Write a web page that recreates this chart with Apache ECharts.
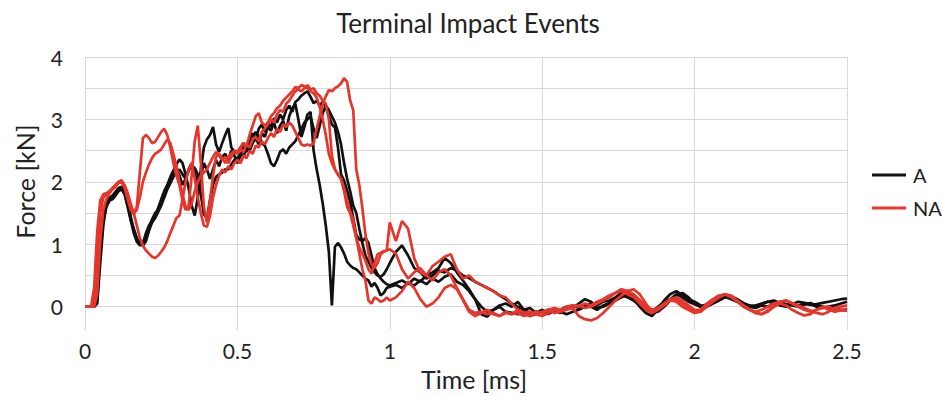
<!DOCTYPE html>
<html>
<head>
<meta charset="utf-8">
<script src="https://cdn.jsdelivr.net/npm/echarts@6/dist/echarts.min.js"></script>
<style>html,body{margin:0;padding:0;background:#fff;}#c{width:943px;height:396px;}</style>
</head>
<body>
<div id="c"></div>
<script>
const title = 'Terminal Impact Events';
const xName = 'Time [ms]';
const yName = 'Force [kN]';
const groupNames = ['A', 'NA'];

const time = [
0,0.01,0.02,0.03,0.04,0.05,0.06,0.07,0.08,0.09,
0.1,0.11,0.12,0.13,0.14,0.15,0.16,0.17,0.18,0.19,
0.2,0.21,0.22,0.23,0.24,0.25,0.26,0.27,0.28,0.29,
0.3,0.31,0.32,0.33,0.34,0.35,0.36,0.37,0.38,0.39,
0.4,0.41,0.42,0.43,0.44,0.45,0.46,0.47,0.48,0.49,
0.5,0.51,0.52,0.53,0.54,0.55,0.56,0.57,0.58,0.59,
0.6,0.61,0.62,0.63,0.64,0.65,0.66,0.67,0.68,0.69,
0.7,0.71,0.72,0.73,0.74,0.75,0.76,0.77,0.78,0.79,
0.8,0.81,0.82,0.83,0.84,0.85,0.86,0.87,0.88,0.89,
0.9,0.91,0.92,0.93,0.94,0.95,0.96,0.97,0.98,0.99,1,
1.02,1.04,1.06,1.08,1.1,1.12,1.14,1.16,1.18,1.2,
1.22,1.24,1.26,1.28,1.3,1.32,1.34,1.36,1.38,1.4,
1.42,1.44,1.46,1.48,1.5,1.52,1.54,1.56,1.58,1.6,
1.62,1.64,1.66,1.68,1.7,1.72,1.74,1.76,1.78,1.8,
1.82,1.84,1.86,1.88,1.9,1.92,1.94,1.96,1.98,2,
2.02,2.04,2.06,2.08,2.1,2.12,2.14,2.16,2.18,2.2,
2.22,2.24,2.26,2.28,2.3,2.32,2.34,2.36,2.38,2.4,
2.42,2.44,2.46,2.48,2.5];

const a1 = [
0,0,0,0,0.25,1.05,1.5,1.68,1.74,1.78,
1.84,1.9,1.92,1.82,1.62,1.38,1.18,1.04,0.98,1.02,
1.18,1.3,1.38,1.45,1.58,1.72,1.85,1.95,2.08,2.18,
2.28,2.36,2.3,2.12,1.9,1.62,1.46,1.75,2.2,2.55,
2.68,2.75,2.88,2.6,2.48,2.62,2.75,2.86,2.55,2.48,
2.46,2.55,2.62,2.5,2.7,2.78,2.66,2.85,2.92,2.8,
2.95,2.88,3.02,2.95,3.08,3.0,3.15,3.22,3.12,3.28,
3.32,3.38,3.42,3.45,3.36,3.26,3.3,3.22,3.28,3.2,
3.05,2.92,2.87,2.55,2.12,2.02,1.86,1.68,1.42,1.15,
1.08,1.05,1.1,1.02,0.82,0.62,0.52,0.45,0.4,0.36,0.34,
0.38,0.42,0.36,0.45,0.4,0.5,0.55,0.62,0.78,0.7,
0.55,0.42,0.28,0.12,-0.12,-0.16,-0.05,0.0,-0.08,-0.1,
-0.12,-0.1,-0.15,-0.08,-0.1,-0.05,-0.08,-0.05,0.0,-0.03,
0.05,0.12,0.08,-0.02,0.0,0.05,0.1,0.15,0.2,0.12,
0.0,-0.1,-0.15,-0.05,0.1,0.2,0.25,0.18,0.12,0.08,
0.02,0.0,0.05,0.1,0.15,0.17,0.12,0.06,0.02,0.0,
0.04,0.08,0.1,0.06,0.03,0.05,0.02,0.05,0.03,0.04,
0.06,0.08,0.1,0.12,0.13];

const a2 = [
0,0,0,0,0.05,0.7,1.3,1.62,1.7,1.75,
1.8,1.86,1.92,1.86,1.7,1.45,1.22,1.08,1.0,0.98,
1.05,1.22,1.35,1.42,1.52,1.62,1.75,1.88,1.98,2.08,
2.15,2.2,2.12,2.05,2.18,2.26,2.22,2.12,1.8,1.48,
1.42,1.7,1.95,2.08,2.12,2.15,2.2,2.2,2.28,2.35,
2.38,2.45,2.4,2.55,2.5,2.62,2.7,2.6,2.78,2.72,
2.88,2.82,2.95,2.78,2.9,2.98,2.82,3.05,3.18,3.25,
3.0,2.72,2.88,3.08,3.12,2.5,2.2,1.95,1.65,1.3,
0.88,0.02,0.96,1.02,0.95,0.85,0.72,0.66,0.62,0.6,
0.55,0.5,0.45,0.42,0.32,0.38,0.3,0.18,0.22,0.3,0.32,
0.35,0.3,0.38,0.34,0.42,0.36,0.45,0.4,0.48,0.52,
0.4,0.35,0.25,0.12,0.0,-0.08,-0.05,0.02,0.05,0.0,
0.08,-0.05,-0.02,-0.1,-0.05,-0.12,-0.06,-0.1,-0.02,0.02,
-0.02,0.04,0.0,-0.05,0.02,0.06,0.12,0.18,0.15,0.1,
0.02,-0.05,-0.08,0.0,0.08,0.12,0.2,0.15,0.08,0.04,
0.0,0.02,0.08,0.12,0.16,0.12,0.08,0.02,0.0,-0.02,
0.02,0.0,0.05,0.08,0.04,0.02,0.0,0.03,0.06,0.02,
0.0,-0.02,-0.04,-0.05,-0.06];

const a3 = [
0,0,0,0,0.1,0.85,1.4,1.6,1.7,1.72,
1.78,1.85,1.88,1.8,1.6,1.4,1.25,1.1,1.02,1.0,
1.1,1.25,1.4,1.5,1.55,1.68,1.8,1.9,2.0,2.12,
2.2,2.1,1.95,2.05,2.2,2.3,2.15,1.95,2.1,2.3,
2.2,2.05,2.2,2.35,2.25,2.4,2.45,2.35,2.5,2.42,
2.3,2.42,2.55,2.48,2.62,2.7,2.8,2.72,2.62,2.58,
2.45,2.3,2.25,2.35,2.48,2.52,2.45,2.55,2.6,2.65,
2.75,2.85,2.95,3.0,3.05,2.85,2.7,2.9,3.1,3.22,
3.15,3.05,2.95,2.8,2.6,2.3,2.05,1.85,1.62,1.5,
1.25,1.02,0.82,0.72,0.62,0.55,0.5,0.48,0.52,0.6,0.7,
0.88,0.98,0.82,0.62,0.55,0.45,0.5,0.58,0.55,0.62,
0.58,0.5,0.46,0.4,0.35,0.3,0.25,0.18,0.12,0.05,
0.0,-0.05,-0.1,-0.12,-0.08,-0.1,-0.05,-0.08,-0.12,-0.08,
-0.05,0.0,0.05,0.02,0.08,0.1,0.15,0.22,0.25,0.18,
0.1,0.0,-0.05,-0.08,0.0,0.1,0.18,0.22,0.15,0.05,
0.0,0.04,0.1,0.14,0.18,0.15,0.1,0.04,0.0,0.02,
0.05,0.08,0.06,0.02,0.0,0.04,0.08,0.06,0.04,0.0,
-0.02,0.0,0.02,0.05,0.08];

const na1 = [
0,0,0,0.3,1.2,1.7,1.8,1.82,1.85,1.9,
1.95,2.0,2.02,1.92,1.72,1.55,1.48,1.6,2.15,2.7,
2.75,2.7,2.62,2.64,2.72,2.8,2.85,2.75,2.55,2.3,
2.1,1.95,1.7,1.55,1.62,2.1,2.65,2.9,2.3,1.6,
1.35,1.7,2.1,2.4,2.45,2.38,2.3,2.4,2.45,2.5,
2.48,2.55,2.62,2.58,2.75,2.9,3.05,3.1,2.95,2.9,
2.95,3.05,3.1,3.18,3.22,3.3,3.35,3.4,3.45,3.52,
3.5,3.55,3.53,3.5,3.45,3.42,3.35,3.2,3.0,2.75,
2.45,2.3,2.2,2.12,2.05,1.85,1.6,1.5,1.3,1.1,
0.85,0.6,0.42,0.1,0.05,0.15,0.12,0.08,0.1,0.15,0.1,
0.15,0.25,0.4,0.3,0.12,0.0,0.05,0.15,0.3,0.35,
0.28,0.1,-0.08,-0.15,-0.1,-0.05,-0.12,-0.15,-0.08,-0.12,
-0.05,-0.1,-0.15,-0.12,-0.08,-0.05,-0.1,-0.08,-0.05,-0.02,
-0.15,-0.2,-0.22,-0.18,-0.1,0.0,0.1,0.18,0.25,0.28,
0.2,0.05,-0.08,-0.05,0.02,0.1,0.08,0.0,-0.05,-0.1,
-0.08,0.0,0.08,0.15,0.2,0.18,0.1,0.02,-0.05,-0.1,
-0.12,-0.08,0.0,0.05,0.02,-0.05,-0.1,-0.14,-0.12,-0.05,
0.0,-0.05,-0.08,-0.06,-0.03];

const na2 = [
0,0,0,0.05,0.8,1.5,1.75,1.8,1.82,1.88,
1.92,1.98,2.0,1.9,1.75,1.6,1.5,1.55,1.75,2.0,
2.15,2.28,2.38,2.45,2.48,2.52,2.6,2.68,2.62,2.45,
2.25,2.0,1.8,1.6,1.55,1.65,1.85,2.0,2.1,2.15,
2.2,2.3,2.4,2.48,2.42,2.35,2.4,2.3,2.4,2.5,
2.45,2.52,2.48,2.6,2.55,2.68,2.72,2.65,2.8,2.85,
2.92,3.0,2.95,3.08,3.15,3.12,3.25,3.3,3.38,3.45,
3.48,3.45,3.5,3.55,3.48,3.5,3.42,3.38,3.3,3.25,
3.0,2.42,2.2,2.12,2.05,1.9,1.7,1.52,1.4,1.1,
0.95,0.85,0.74,0.6,0.53,0.7,0.84,0.86,0.89,0.9,0.92,
0.85,0.6,0.45,0.55,0.62,0.5,0.65,0.72,0.8,0.84,
0.6,0.45,0.5,0.4,0.35,0.3,0.25,0.18,0.15,0.05,
-0.05,-0.1,-0.08,-0.12,-0.15,-0.1,-0.05,-0.08,-0.03,0.0,
0.02,-0.02,0.0,0.05,0.1,0.15,0.22,0.28,0.25,0.2,
0.1,0.0,-0.05,-0.02,0.05,0.12,0.15,0.1,0.02,-0.05,
-0.05,0.02,0.1,0.15,0.2,0.15,0.08,0.0,-0.05,-0.08,
-0.05,0.0,0.05,0.08,0.1,0.05,0.0,-0.05,-0.08,-0.05,
-0.02,0.0,-0.04,-0.06,-0.05];

const na3 = [
0,0,0,0,0.2,1.05,1.55,1.72,1.82,1.9,
1.95,2.0,2.02,1.95,1.82,1.65,1.5,1.3,1.1,0.98,
0.9,0.85,0.8,0.78,0.82,0.88,0.95,1.05,1.18,1.3,
1.42,1.46,1.72,2.0,2.2,2.3,2.05,1.75,1.5,1.3,
1.28,1.45,1.75,1.95,2.1,2.2,2.15,2.25,2.2,2.3,
2.35,2.3,2.42,2.38,2.5,2.45,2.58,2.55,2.65,2.6,
2.7,2.78,2.72,2.85,2.8,2.92,2.88,2.95,2.9,2.8,
2.7,2.6,2.58,2.6,2.58,2.62,2.85,3.05,3.25,3.37,
3.47,3.45,3.5,3.53,3.58,3.66,3.6,3.3,3.15,2.2,
1.95,1.58,1.16,0.85,0.68,0.62,0.7,0.84,0.88,0.9,1.35,
1.05,1.37,1.25,0.78,0.55,0.5,0.42,0.55,0.6,0.5,
0.3,0.12,-0.05,-0.1,-0.08,-0.12,-0.1,-0.15,-0.1,-0.12,
-0.1,-0.15,-0.12,-0.08,-0.1,-0.05,-0.02,-0.05,0.0,0.02,
0.0,0.05,0.02,0.08,0.12,0.18,0.22,0.25,0.2,0.15,
0.05,-0.05,-0.1,-0.05,0.05,0.1,0.12,0.05,-0.02,-0.08,
-0.05,0.05,0.12,0.18,0.2,0.16,0.1,0.02,-0.04,-0.1,
-0.12,-0.06,0.0,0.08,0.1,0.06,0.02,-0.02,-0.06,-0.1,
-0.12,-0.08,-0.02,0.0,0.02];

const traces = [
  { group: 'A', values: a1 },
  { group: 'A', values: a2 },
  { group: 'A', values: a3 },
  { group: 'NA', values: na1 },
  { group: 'NA', values: na2 },
  { group: 'NA', values: na3 }
];

traces.forEach(t => {
  if (t.values.length !== time.length) throw new Error('length mismatch ' + t.values.length + ' vs ' + time.length);
});

const groupColor = { 'A': '#111111', 'NA': '#e6352b' };
const FONT = 'Lato';

const chart = echarts.init(document.getElementById('c'), null, { renderer: 'svg' });
chart.setOption({
  animation: false,
  backgroundColor: '#ffffff',
  title: {
    text: title, left: 463, top: 5, textAlign: 'center',
    textStyle: { fontFamily: FONT, fontSize: 26, fontWeight: 'normal', color: '#222' }
  },
  legend: {
    data: groupNames, orient: 'vertical', left: 867, top: 160,
    icon: 'rect', itemWidth: 34, itemHeight: 3, itemGap: 13,
    textStyle: { fontFamily: FONT, fontSize: 20, color: '#222', padding: [0, 0, 0, 2] }
  },
  grid: { left: 85, right: 96, top: 57, bottom: 63, containLabel: false },
  xAxis: {
    type: 'value', min: 0, max: 2.5, interval: 0.5,
    name: xName, nameLocation: 'middle', nameGap: 33,
    nameTextStyle: { fontFamily: FONT, fontSize: 25, color: '#222', padding: [0, 0, 0, 16] },
    axisLine: { show: false }, axisTick: { show: false },
    axisLabel: { fontFamily: FONT, fontSize: 21, color: '#222', margin: 10 },
    splitLine: { show: true, lineStyle: { color: '#d9d9d9', width: 1 } }
  },
  yAxis: {
    type: 'value', min: -0.375, max: 4, interval: 0.125,
    name: yName, nameLocation: 'middle', nameGap: 48,
    nameTextStyle: { fontFamily: FONT, fontSize: 25, color: '#222', padding: [0, 0, 0, 24] },
    axisLine: { show: false }, axisTick: { show: false },
    axisLabel: {
      fontFamily: FONT, fontSize: 21, color: '#222', margin: 22,
      formatter: v => (Math.abs(v - Math.round(v)) < 1e-9 ? String(Math.round(v)) : '')
    },
    splitLine: { show: true, lineStyle: { color: ['rgba(0,0,0,0)', 'rgba(0,0,0,0)', 'rgba(0,0,0,0)', '#d9d9d9'], width: 1 } }
  },
  series: traces.map(t => ({
    name: t.group, type: 'line', showSymbol: false, symbol: 'none',
    data: time.map((x, i) => [x, t.values[i]]),
    lineStyle: { color: groupColor[t.group], width: 2.7 },
    itemStyle: { color: groupColor[t.group] }
  }))
});
</script>
</body>
</html>
